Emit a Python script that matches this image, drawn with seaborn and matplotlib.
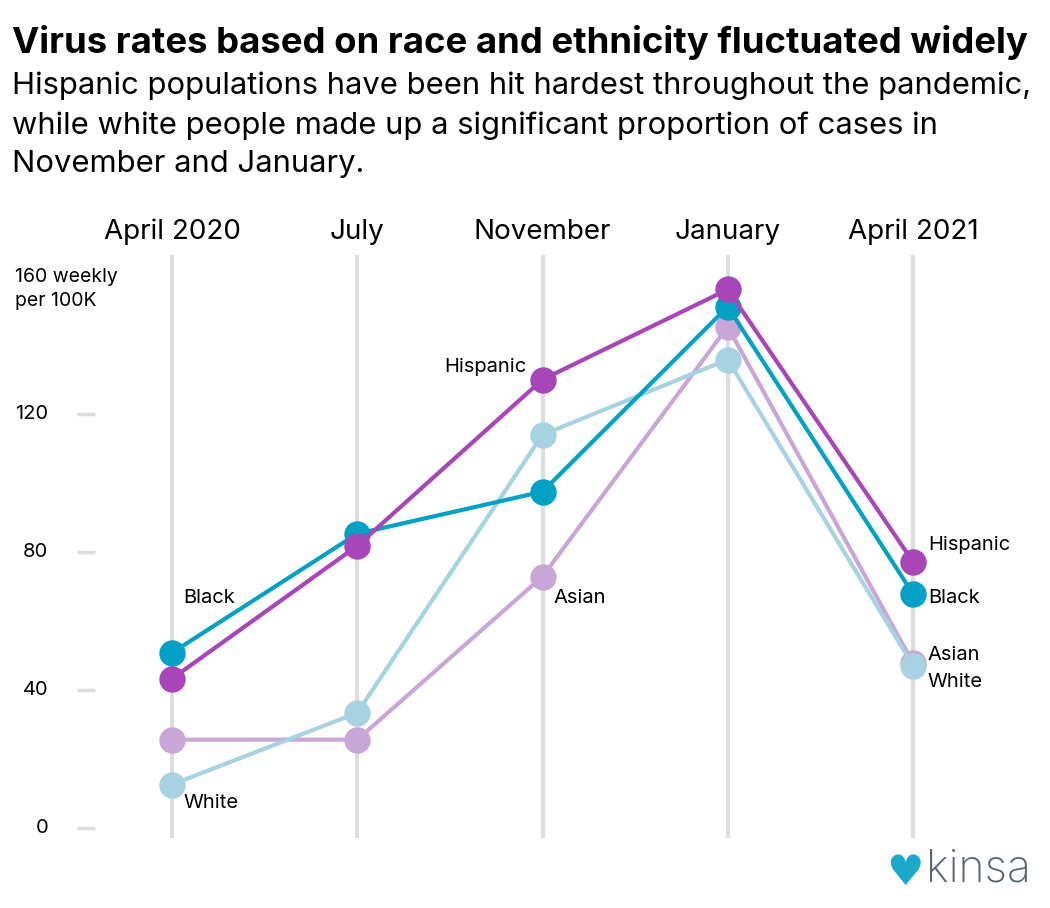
import pandas as pd
import seaborn as sns
import matplotlib.pyplot as plt

# === DATA ===
months = ["April 2020", "July", "November", "January", "April 2021"]
black = [50.7, 85.2, 97.4, 151.0, 67.8]
hispanic = [43.2, 81.7, 129.9, 156.0, 77.1]
white = [12.5, 33.3, 113.9, 135.7, 47.0]
asian = [25.5, 25.5, 72.8, 145.2, 47.8]
y_ticks = [0, 40, 80, 120]

groups = {"Asian": asian, "White": white, "Black": black, "Hispanic": hispanic}
rows = []
for name, vals in groups.items():
    for i, v in enumerate(vals):
        rows.append({"pos": i, "month": months[i], "group": name, "rate": v})
df = pd.DataFrame(rows)

palette = {"Hispanic": "#A845B8", "Black": "#00A1C4",
           "White": "#A6D2E2", "Asian": "#C9A6D8"}

sns.set_style("white")
plt.rcParams['font.family'] = ['Inter', 'DejaVu Sans']
plt.rcParams['text.color'] = 'black'
plt.rcParams['xtick.color'] = 'black'

fig = plt.figure(figsize=(10.5, 9.08), dpi=100)
ax = fig.add_axes([60/1050, 70/908, 940/1050, 583/908])

# vertical guide lines
ax.vlines(range(len(months)), -3, 166, color="#DDDDDD", lw=3, zorder=0)

sns.lineplot(data=df, x="pos", y="rate", hue="group",
             hue_order=["Asian", "White", "Black", "Hispanic"],
             palette=palette, marker="o", markersize=19, markeredgewidth=0,
             linewidth=3, legend=False, ax=ax)

ax.set_xlim(-0.605, 4.47)
ax.set_ylim(-3, 166)
ax.set_xlabel("")
ax.set_ylabel("")
ax.xaxis.tick_top()
ax.set_xticks(range(len(months)))
ax.set_xticklabels(months, fontsize=20, color="black")
ax.tick_params(axis="x", length=0, pad=7)
ax.set_yticks([])
for s in ax.spines.values():
    s.set_visible(False)

# y tick dashes and labels
ax.hlines(y_ticks, -0.513, -0.416, color="#DDDDDD", lw=2.5, clip_on=False)
for t in y_ticks:
    ax.text(-0.669, t, str(t), ha="right", va="center", fontsize=14.5, clip_on=False)
ax.text(-0.848, 162.2, "160 weekly\nper 100K", ha="left", va="top",
        fontsize=14, linespacing=1.4, clip_on=False)

# direct labels
lab = dict(fontsize=14.5, va="center")
ax.text(0.06, 66.5, "Black", ha="left", **lab)
ax.text(0.06, 7.2, "White", ha="left", **lab)
ax.text(1.916, 133.4, "Hispanic", ha="right", **lab)
ax.text(2.057, 66.5, "Asian", ha="left", **lab)
ax.text(4.08, 81.9, "Hispanic", ha="left", **lab)
ax.text(4.08, 66.5, "Black", ha="left", **lab)
ax.text(4.08, 50.0, "Asian", ha="left", **lab)
ax.text(4.08, 42.2, "White", ha="left", **lab)

# title and subtitle
fig.text(12/1050, 1 - 42/908, "Virus rates based on race and ethnicity fluctuated widely",
         fontsize=26.3, fontweight="bold", ha="left", va="center")
fig.text(12/1050, 1 - 72/908,
         "Hispanic populations have been hit hardest throughout the pandemic,\n"
         "while white people made up a significant proportion of cases in\n"
         "November and January.",
         fontsize=22.3, ha="left", va="top", linespacing=1.48)

# logo
fig.text(905/1050, 1 - 873/908, "\u2665", color="#1BA9C9", fontsize=30,
         ha="center", va="center", family="DejaVu Sans")
fig.text(926/1050, 1 - 870/908, "kinsa", color="#5B6572", fontsize=32,
         fontweight="light", ha="left", va="center")

fig.savefig("out.png", dpi=100)
